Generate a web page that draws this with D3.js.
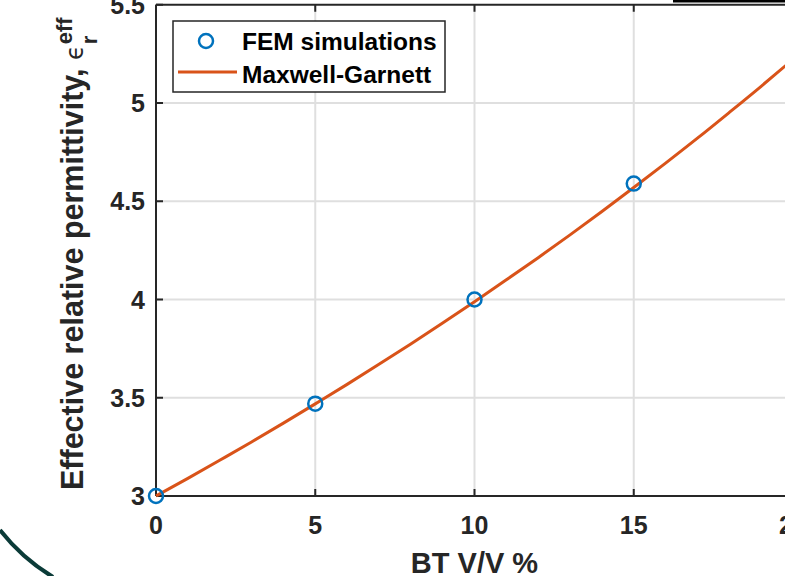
<!DOCTYPE html>
<html>
<head>
<meta charset="utf-8">
<script src="https://cdn.jsdelivr.net/npm/d3@7"></script>
<style>
  html, body { margin: 0; padding: 0; background: #fff; overflow: hidden; }
  svg { display: block; font-family: "Liberation Sans", Arial, Helvetica, sans-serif; }
</style>
</head>
<body>
<div id="chart"></div>
<script>
// BT volume fraction (%) and Maxwell-Garnett estimate
const btPct = [0, 1, 2, 3, 4, 5, 6, 7, 8, 9, 10, 11, 12, 13, 14, 15, 16, 17, 18, 19, 20];
const mgEps = [3.000, 3.090, 3.182, 3.275, 3.371, 3.469, 3.568, 3.670, 3.774, 3.880, 3.989,
               4.100, 4.213, 4.329, 4.448, 4.570, 4.694, 4.821, 4.952, 5.085, 5.222];
// FEM simulation points
const femPct = [0, 5, 10, 15];
const femEps = [3.00, 3.47, 4.00, 4.59];
// ticks
const xTicks = [0, 5, 10, 15, 20];
const yTicks = [3, 3.5, 4, 4.5, 5, 5.5];
const legendLabels = ['FEM simulations', 'Maxwell-Garnett'];

const W = 785, H = 576;
const axisColor = '#262626', gridColor = '#dfdfdf';
const blue = '#0072BD', orange = '#D95319';

const svg = d3.select('#chart').append('svg')
  .attr('width', W).attr('height', H);

svg.append('rect').attr('width', W).attr('height', H).attr('fill', '#fff');

// stray decoration from the source page
svg.append('path')
  .attr('d', 'M0,530 A195,195 0 0,0 53,577')
  .attr('fill', 'none').attr('stroke', '#0b3b38').attr('stroke-width', 4);
svg.append('rect').attr('x', 673).attr('y', 0).attr('width', 112).attr('height', 2.5).attr('fill', '#000');

const x = d3.scaleLinear().domain([0, 20]).range([156, 793]);
const y = d3.scaleLinear().domain([3, 5.5]).range([496, 4.75]);

// grid
const grid = svg.append('g');
grid.selectAll('.gx').data(xTicks.slice(1, -1)).enter().append('line')
  .attr('x1', d => x(d)).attr('x2', d => x(d))
  .attr('y1', y(3)).attr('y2', y(5.5))
  .attr('stroke', gridColor).attr('stroke-width', 2);
grid.selectAll('.gy').data(yTicks.slice(1, -1)).enter().append('line')
  .attr('x1', x(0)).attr('x2', x(20))
  .attr('y1', d => y(d)).attr('y2', d => y(d))
  .attr('stroke', gridColor).attr('stroke-width', 2);

// axes
const axes = svg.append('g').attr('stroke', axisColor).attr('stroke-width', 2);
axes.append('line').attr('x1', x(0)).attr('x2', x(20)).attr('y1', y(3)).attr('y2', y(3));
axes.append('line').attr('x1', x(0)).attr('x2', x(20)).attr('y1', y(5.5)).attr('y2', y(5.5));
axes.append('line').attr('x1', x(0)).attr('x2', x(0)).attr('y1', y(3)).attr('y2', y(5.5));
axes.append('line').attr('x1', x(20)).attr('x2', x(20)).attr('y1', y(3)).attr('y2', y(5.5));
axes.selectAll('.tb').data(xTicks).enter().append('line')
  .attr('x1', d => x(d)).attr('x2', d => x(d)).attr('y1', y(3)).attr('y2', y(3) - 7);
axes.selectAll('.tt').data(xTicks).enter().append('line')
  .attr('x1', d => x(d)).attr('x2', d => x(d)).attr('y1', y(5.5)).attr('y2', y(5.5) + 7);
axes.selectAll('.tl').data(yTicks).enter().append('line')
  .attr('x1', x(0)).attr('x2', x(0) + 7).attr('y1', d => y(d)).attr('y2', d => y(d));

// tick labels
svg.append('g').selectAll('text').data(xTicks).enter().append('text')
  .attr('x', d => x(d)).attr('y', 534)
  .attr('text-anchor', 'middle').attr('font-size', 25).attr('font-weight', 'bold')
  .attr('fill', axisColor).text(d => d);
svg.append('g').selectAll('text').data(yTicks).enter().append('text')
  .attr('x', 145).attr('y', d => y(d)).attr('dy', '0.36em')
  .attr('text-anchor', 'end').attr('font-size', 25).attr('font-weight', 'bold')
  .attr('fill', axisColor).text(d => d);

// x label
svg.append('text')
  .attr('x', (x(0) + x(20)) / 2).attr('y', 573)
  .attr('text-anchor', 'middle').attr('font-size', 29).attr('font-weight', 'bold')
  .attr('fill', axisColor).text('BT V/V %');

// y label with epsilon, subscript and superscript
const yl = svg.append('text')
  .attr('font-size', 30.5).attr('font-weight', 'bold').attr('fill', axisColor);
yl.append('tspan').text('Effective relative permittivity, ');
yl.append('tspan').attr('font-family', 'DejaVu Sans').attr('font-weight', 'normal')
  .attr('font-size', 24).text('\u03F5');
const mainLen = yl.node().getComputedTextLength();
const sup = svg.append('text').attr('font-size', 22).attr('font-weight', 'bold')
  .attr('fill', axisColor).text('eff');
const sub = svg.append('text').attr('font-size', 22).attr('font-weight', 'bold')
  .attr('fill', axisColor).text('r');
const start = 490;
yl.attr('transform', `translate(83,${start}) rotate(-90)`);
sup.attr('transform', `translate(72,${start - mainLen - 1}) rotate(-90)`);
sub.attr('transform', `translate(97,${start - mainLen - 1}) rotate(-90)`);

// Maxwell-Garnett curve
const mgData = btPct.map((v, i) => [v, mgEps[i]]);
svg.append('path').datum(mgData)
  .attr('d', d3.line().x(d => x(d[0])).y(d => y(d[1])).curve(d3.curveMonotoneX))
  .attr('fill', 'none').attr('stroke', orange).attr('stroke-width', 3);

// FEM markers
svg.append('g').selectAll('circle').data(femPct.map((v, i) => [v, femEps[i]])).enter()
  .append('circle')
  .attr('cx', d => x(d[0])).attr('cy', d => y(d[1])).attr('r', 7)
  .attr('fill', 'none').attr('stroke', blue).attr('stroke-width', 2.5);

// legend
const lg = svg.append('g');
lg.append('rect').attr('x', 173).attr('y', 21).attr('width', 272).attr('height', 71)
  .attr('fill', '#fff').attr('stroke', axisColor).attr('stroke-width', 1.5);
lg.append('circle').attr('cx', 206).attr('cy', 41).attr('r', 7)
  .attr('fill', 'none').attr('stroke', blue).attr('stroke-width', 2.5);
lg.append('line').attr('x1', 178).attr('x2', 237).attr('y1', 72).attr('y2', 72)
  .attr('stroke', orange).attr('stroke-width', 3);
lg.selectAll('text').data(legendLabels).enter().append('text')
  .attr('x', 242).attr('y', (d, i) => 50 + i * 33)
  .attr('font-size', 24.5).attr('font-weight', 'bold').attr('fill', '#000')
  .text(d => d);
</script>
</body>
</html>
